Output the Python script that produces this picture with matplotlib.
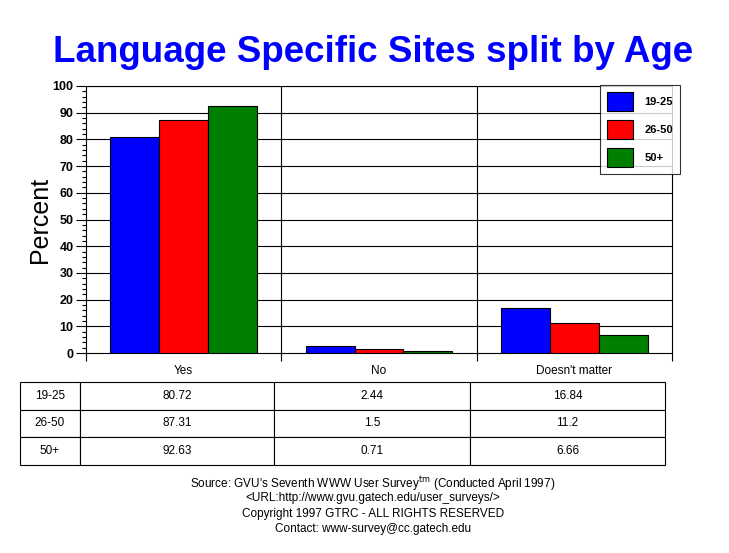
import matplotlib
matplotlib.use('Agg')
import matplotlib.pyplot as plt
from matplotlib.ticker import MultipleLocator
import numpy as np

plt.rcParams['font.family'] = ['Liberation Sans', 'DejaVu Sans']

# Data
categories = ['Yes', 'No', "Doesn't matter"]
groups = ['19-25', '26-50', '50+']
age_19_25 = [80.72, 2.44, 16.84]
age_26_50 = [87.31, 1.5, 11.2]
age_50_plus = [92.63, 0.71, 6.66]
colors = ['#0000ff', '#ff0000', '#008000']
series = [age_19_25, age_26_50, age_50_plus]

fig = plt.figure(figsize=(7.29, 5.53), dpi=100)
W, H = 729, 553

def fig_rect(x0, y0, x1, y1):
    return [x0 / W, 1 - y1 / H, (x1 - x0) / W, (y1 - y0) / H]

# Main bar axes
ax = fig.add_axes(fig_rect(86, 86, 672, 353))
x = np.arange(len(categories))
bw = 0.25
for i, (vals, c, lab) in enumerate(zip(series, colors, groups)):
    ax.bar(x + (i - 1) * bw, vals, bw, color=c, edgecolor='black', linewidth=0.8,
           label=lab, zorder=3)

ax.set_xlim(-0.5, 2.5)
ax.set_ylim(0, 100)
for yv in range(10, 101, 10):
    ax.axhline(yv, color='black', linewidth=0.8, zorder=1)
# category separators with ticks below the axis
ax.set_xticks([-0.5, 0.5, 1.5, 2.5])
ax.set_xticklabels([])
ax.tick_params(axis='x', direction='out', length=6, width=0.8, color='black')
for xv in [0.5, 1.5]:
    ax.axvline(xv, color='black', linewidth=0.8, zorder=1)
for i, cat in enumerate(categories):
    ax.text(i, -4.5, cat, ha='center', va='top', fontsize=8.5)

ax.yaxis.set_major_locator(MultipleLocator(10))
ax.yaxis.set_minor_locator(MultipleLocator(2))
ax.tick_params(axis='y', which='major', direction='out', length=7, width=0.8, pad=2)
ax.tick_params(axis='y', which='minor', direction='out', length=3, width=0.8)
for lbl in ax.get_yticklabels():
    lbl.set_fontweight('bold')
    lbl.set_fontsize(9)
for sp in ax.spines.values():
    sp.set_linewidth(0.8)
ax.set_ylabel('Percent', fontsize=18)
ax.yaxis.set_label_coords(-0.058, 0.5)

# Legend
leg = fig.legend(loc='upper left', bbox_to_anchor=(600 / W, 1 - 85 / H),
                 frameon=True, fancybox=False, edgecolor='black',
                 prop={'weight': 'bold', 'size': 8}, handlelength=2.4,
                 handleheight=2.3, labelspacing=0.8, borderpad=0.6,
                 handletextpad=1.0, borderaxespad=0)
leg.get_frame().set_linewidth(0.8)

# Title
fig.text(373 / W, 1 - 52 / H, 'Language Specific Sites split by Age', ha='center',
         va='center', fontsize=26.5, fontweight='bold', color='#0000ff')

# Data table
tax = fig.add_axes(fig_rect(20, 382, 665, 465))
tax.axis('off')
cell_text = []
for lab, vals in zip(groups, series):
    cell_text.append([lab] + [str(v) for v in vals])
col_w = np.array([60, 194, 196, 195], dtype=float)
tbl = tax.table(cellText=cell_text, colWidths=list(col_w / col_w.sum()),
                cellLoc='center', bbox=[0, 0, 1, 1])
tbl.auto_set_font_size(False)
tbl.set_fontsize(8.5)
for cell in tbl.get_celld().values():
    cell.set_linewidth(0.8)

# Footer
footer = [
    ("Source: GVU's Seventh WWW User Survey$^{\\rm tm}$ (Conducted April 1997)", 484),
    ("<URL:http://www.gvu.gatech.edu/user_surveys/>", 498),
    ("Copyright 1997 GTRC - ALL RIGHTS RESERVED", 514),
    ("Contact: www-survey@cc.gatech.edu", 529),
]
for txt, yp in footer:
    fig.text(373 / W, 1 - yp / H, txt, ha='center', va='center', fontsize=8.5)

fig.savefig('out.png', dpi=100)
